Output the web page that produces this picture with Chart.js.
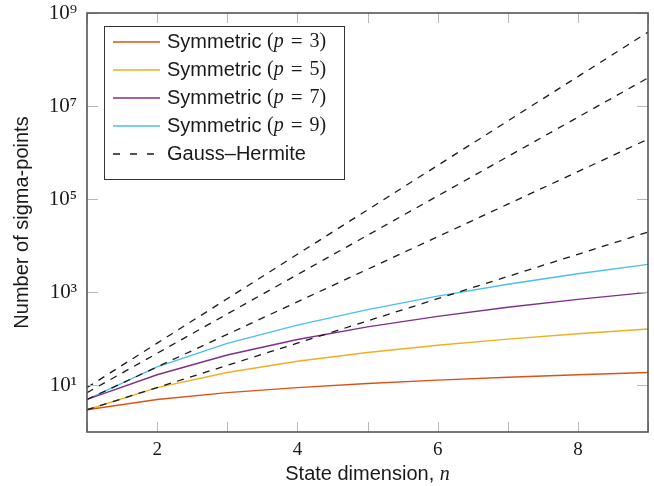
<!DOCTYPE html>
<html><head><meta charset="utf-8">
<script src="https://cdn.jsdelivr.net/npm/chart.js@4.4.1/dist/chart.umd.min.js"></script>
<style>html,body{margin:0;padding:0;background:#fff;}canvas{display:block;}</style>
</head><body>
<canvas id="c" width="654" height="486"></canvas>
<script>
// ---- data ----
const nValues = [1, 2, 3, 4, 5, 6, 7, 8, 9];
const symmetricP3 = [3, 5, 7, 9, 11, 13, 15, 17, 19];
const symmetricP5 = [3, 9, 19, 33, 51, 73, 99, 129, 163];
const symmetricP7 = [5, 17, 45, 97, 181, 305, 477, 705, 997];
const symmetricP9 = [5, 25, 80, 197, 426, 831, 1492, 2505, 3982];
const gaussHermiteP3 = [3, 9, 27, 81, 243, 729, 2187, 6561, 19683];
const gaussHermiteP5 = [5, 25, 125, 625, 3125, 15625, 78125, 390625, 1953125];
const gaussHermiteP7 = [7, 49, 343, 2401, 16807, 117649, 823543, 5764801, 40353607];
const gaussHermiteP9 = [9, 81, 729, 6561, 59049, 531441, 4782969, 43046721, 387420489];
const xTickValues = [1, 2, 3, 4, 5, 6, 7, 8, 9];
const xTickLabels = ['', '2', '', '4', '', '6', '', '8', ''];
const yTickValues = [1e1, 1e3, 1e5, 1e7, 1e9];
const yTickLabels = ['10\u00B9', '10\u00B3', '10\u2075', '10\u2077', '10\u2079'];
const legendLabels = ['Symmetric (p = 3)', 'Symmetric (p = 5)', 'Symmetric (p = 7)', 'Symmetric (p = 9)', 'Gauss\u2013Hermite'];
const xTitleText = 'State dimension, ';
const xTitleVar = 'n';
const yTitleText = 'Number of sigma-points';

// ---- styles ----
const symColors = ['#D95319', '#EDB120', '#7E2F8E', '#4DBEEE'];
const ghColor = '#1a1a1a';
const SANS = '"Liberation Sans", Arial, sans-serif';
const SERIF = '"Liberation Serif", "Times New Roman", serif';

const pts = arr => nValues.map((n, i) => ({x: n, y: arr[i]}));
const symSeries = [symmetricP3, symmetricP5, symmetricP7, symmetricP9];
const ghSeries = [gaussHermiteP3, gaussHermiteP5, gaussHermiteP7, gaussHermiteP9];

const datasets = [];
symSeries.forEach((s, i) => datasets.push({
  label: legendLabels[i], data: pts(s), borderColor: symColors[i], borderWidth: 1.4,
  pointRadius: 0, tension: 0, fill: false, order: 1
}));
ghSeries.forEach((s) => datasets.push({
  label: legendLabels[4], data: pts(s), borderColor: ghColor, borderWidth: 1.3,
  borderDash: [7, 6.5], pointRadius: 0, tension: 0, fill: false, order: 0
}));

function drawLegendText(ctx, text, x, y) {
  const m = text.match(/^(.*)\((p) = (\d)\)$/);
  ctx.textBaseline = 'middle';
  ctx.fillStyle = '#1a1a1a';
  if (!m) { ctx.font = '20px ' + SANS; ctx.fillText(text, x, y); return; }
  ctx.font = '20px ' + SANS; ctx.fillText(m[1], x, y); x += ctx.measureText(m[1]).width;
  ctx.font = '20px ' + SERIF; ctx.fillText('(', x, y); x += ctx.measureText('(').width;
  ctx.font = 'italic 20px ' + SERIF; ctx.fillText(m[2], x, y); x += ctx.measureText(m[2]).width + 7;
  ctx.font = '21px ' + SERIF; ctx.fillText('=', x, y); x += ctx.measureText('=').width + 7;
  ctx.font = '20px ' + SERIF; ctx.fillText(m[3] + ')', x, y);
}

const framePlugin = {
  id: 'frame',
  afterDatasetsDraw(chart) {
    const {ctx, chartArea: a, scales: {x, y}} = chart;
    ctx.save();
    // inward tick marks
    ctx.strokeStyle = '#b8b8b8'; ctx.lineWidth = 1;
    ctx.beginPath();
    x.ticks.forEach(t => {
      const px = Math.round(x.getPixelForValue(t.value)) + 0.5;
      ctx.moveTo(px, a.bottom); ctx.lineTo(px, a.bottom - 10);
      ctx.moveTo(px, a.top); ctx.lineTo(px, a.top + 10);
    });
    y.ticks.forEach(t => {
      const py = Math.round(y.getPixelForValue(t.value)) + 0.5;
      ctx.moveTo(a.left, py); ctx.lineTo(a.left + 11, py);
      ctx.moveTo(a.right, py); ctx.lineTo(a.right - 11, py);
    });
    ctx.stroke();
    // frame
    ctx.strokeStyle = '#555'; ctx.lineWidth = 1.6;
    ctx.strokeRect(a.left, a.top, a.right - a.left, a.bottom - a.top);
    // legend
    const lx = 104.5, ly = 26.5, lw = 240, lh = 153;
    ctx.fillStyle = '#fff'; ctx.fillRect(lx, ly, lw, lh);
    ctx.strokeStyle = '#333'; ctx.lineWidth = 1; ctx.strokeRect(lx, ly, lw, lh);
    legendLabels.forEach((lab, i) => {
      const ry = 42 + i * 28;
      ctx.beginPath();
      ctx.strokeStyle = i < 4 ? symColors[i] : ghColor;
      ctx.lineWidth = 1.4;
      ctx.setLineDash(i < 4 ? [] : [7, 10]);
      ctx.moveTo(113, ry); ctx.lineTo(160, ry); ctx.stroke();
      ctx.setLineDash([]);
      drawLegendText(ctx, lab, 167, ry);
    });
    // x title with italic variable
    ctx.fillStyle = '#1a1a1a'; ctx.textBaseline = 'alphabetic';
    ctx.font = '20px ' + SANS; const w1 = ctx.measureText(xTitleText).width;
    ctx.font = 'italic 20px ' + SERIF; const w2 = ctx.measureText(xTitleVar).width;
    const sx = (a.left + a.right) / 2 - (w1 + w2) / 2;
    ctx.font = '20px ' + SANS; ctx.fillText(xTitleText, sx, 480);
    ctx.font = 'italic 20px ' + SERIF; ctx.fillText(xTitleVar, sx + w1, 480);
    ctx.restore();
  }
};

new Chart(document.getElementById('c'), {
  type: 'line',
  data: {datasets},
  options: {
    responsive: false, animation: false, devicePixelRatio: 1,
    layout: {padding: {left: 0, right: 6, top: 13, bottom: 0}},
    plugins: {legend: {display: false}, tooltip: {enabled: false}},
    scales: {
      x: {
        type: 'linear', min: 1, max: 9,
        afterBuildTicks: s => { s.ticks = xTickValues.map(v => ({value: v})); },
        afterFit: s => { s.height = 54; s.paddingLeft = 0; s.paddingRight = 0; },
        grid: {display: false, drawTicks: false}, border: {display: false},
        ticks: {padding: 7, color: '#1a1a1a', font: {family: SERIF, size: 19},
          maxRotation: 0, autoSkip: false,
          callback: (v, i) => xTickLabels[i]}
      },
      y: {
        type: 'logarithmic', min: 1, max: 1e9,
        afterBuildTicks: s => { s.ticks = yTickValues.map(v => ({value: v})); },
        afterFit: s => { s.width = 87; s.paddingTop = 0; s.paddingBottom = 0; },
        grid: {display: false, drawTicks: false}, border: {display: false},
        ticks: {padding: 10, color: '#1a1a1a', font: {family: SERIF, size: 21}, autoSkip: false,
          callback: (v, i) => yTickLabels[i]},
        title: {display: true, text: yTitleText, color: '#1a1a1a',
          font: {family: SANS, size: 20}, padding: {top: 10, bottom: 0}}
      }
    }
  },
  plugins: [framePlugin]
});
</script>
</body></html>
